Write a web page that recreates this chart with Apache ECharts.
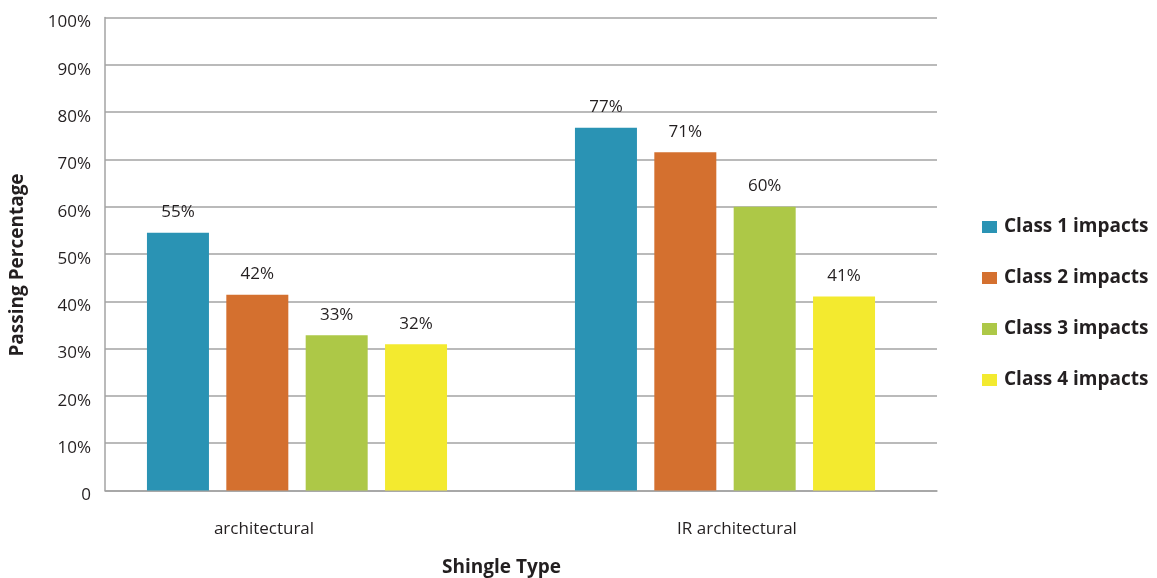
<!DOCTYPE html>
<html>
<head>
<meta charset="utf-8">
<script src="https://cdn.jsdelivr.net/npm/echarts@6/dist/echarts.min.js"></script>
<style>
  html, body { margin: 0; padding: 0; background: #fff; }
  #chart { width: 1157px; height: 578px; }
</style>
</head>
<body>
<div id="chart"></div>
<script>
// categories and series
var categories = ['architectural', 'IR architectural'];
var seriesNames = ['Class 1 impacts', 'Class 2 impacts', 'Class 3 impacts', 'Class 4 impacts'];
var class1 = [54.5, 76.7];
var class2 = [41.4, 71.5];
var class3 = [32.8, 60.0];
var class4 = [30.9, 41.0];
// printed labels
var class1Labels = ['55%', '77%'];
var class2Labels = ['42%', '71%'];
var class3Labels = ['33%', '60%'];
var class4Labels = ['32%', '41%'];
var colors = ['#2a93b4', '#d4702f', '#adc847', '#f3ea2f'];

var font = '"Open Sans", "Noto Sans", sans-serif';
var textColor = '#231f20';
var lineColor = '#a3a3a3';

function makeSeries(i, values, labels) {
    return {
        name: seriesNames[i],
        type: 'bar',
        xAxisIndex: 1,
        yAxisIndex: 1,
        barWidth: 62,
        barGap: '28%',
        data: values,
        itemStyle: { color: colors[i] },
        label: {
            show: true,
            position: 'top',
            distance: 12,
            fontFamily: font,
            fontSize: 17,
            color: textColor,
            formatter: function (p) { return labels[p.dataIndex]; }
        }
    };
}

var chart = echarts.init(document.getElementById('chart'));
var option = {
    animation: false,
    textStyle: { fontFamily: font },
    grid: [
        { left: 105, right: 220, top: 17.5, bottom: 87.5 },
        { left: 83, right: 218, top: 17.5, bottom: 87.5 }
    ],
    legend: {
        orient: 'vertical',
        left: 982,
        top: 217,
        padding: 0,
        itemWidth: 15,
        itemHeight: 12,
        itemGap: 31,
        icon: 'rect',
        data: seriesNames,
        textStyle: {
            fontFamily: font,
            fontWeight: 'bold',
            fontSize: 19,
            lineHeight: 20,
            color: textColor,
            padding: [0, 0, 0, 2]
        }
    },
    title: {
        text: 'Shingle Type',
        left: 442,
        top: 558,
        padding: 0,
        textStyle: { fontFamily: font, fontWeight: 'bold', fontSize: 19, color: textColor }
    },
    xAxis: [
        {
            type: 'category',
            gridIndex: 0,
            data: categories,
            axisLine: { lineStyle: { color: lineColor, width: 1.5 } },
            axisTick: { show: false },
            axisLabel: { show: false }
        },
        {
            type: 'category',
            gridIndex: 1,
            data: categories,
            axisLine: { show: false },
            axisTick: { show: false },
            axisLabel: {
                margin: 30,
                fontFamily: font,
                fontSize: 17,
                color: textColor,
                formatter: function (v, i) { return (i === 0 ? '{a|' : '{b|') + v + '}'; },
                rich: {
                    a: { padding: [0, 66, 0, 0], fontFamily: font, fontSize: 17, color: textColor },
                    b: { padding: [0, 0, 0, 24], fontFamily: font, fontSize: 17, color: textColor }
                }
            }
        }
    ],
    yAxis: [
        {
            type: 'value',
            gridIndex: 0,
            min: 0,
            max: 100,
            interval: 10,
            name: 'Passing Percentage',
            nameLocation: 'middle',
            nameGap: 78,
            nameTextStyle: { fontFamily: font, fontWeight: 'bold', fontSize: 19, color: textColor, padding: [0, 22, 0, 0] },
            axisLine: { show: true, lineStyle: { color: lineColor, width: 1.5 } },
            axisTick: { show: false },
            splitLine: { lineStyle: { color: lineColor, width: 1.5 } },
            axisLabel: {
                margin: 14,
                formatter: function (v) { return '{v|' + (v === 0 ? '0' : v + '%') + '}'; },
                rich: {
                    v: { padding: [10, 0, 0, 0], fontFamily: font, fontSize: 17, color: textColor }
                }
            }
        },
        {
            type: 'value',
            gridIndex: 1,
            min: 0,
            max: 100,
            show: false
        }
    ],
    series: [
        makeSeries(0, class1, class1Labels),
        makeSeries(1, class2, class2Labels),
        makeSeries(2, class3, class3Labels),
        makeSeries(3, class4, class4Labels)
    ]
};
chart.setOption(option);
</script>
</body>
</html>
